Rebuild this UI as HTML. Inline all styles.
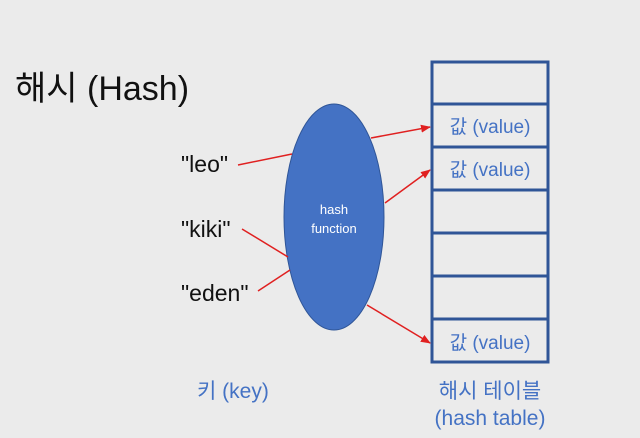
<!DOCTYPE html>
<html><head><meta charset="utf-8"><style>
html,body{margin:0;padding:0;background:#ebebeb;}
svg{display:block;font-family:"Liberation Sans","Noto Sans CJK KR",sans-serif;}
</style></head><body>
<svg width="640" height="438" viewBox="0 0 640 438" xmlns="http://www.w3.org/2000/svg">
<defs><marker id="a" markerWidth="10" markerHeight="8" refX="9" refY="4" orient="auto" markerUnits="userSpaceOnUse"><path d="M0,0 L10,4 L0,8 z" fill="#e02020"/></marker></defs>
<rect width="640" height="438" fill="#ebebeb"/>
<text x="15" y="100" font-size="34" fill="#111">해시 (Hash)</text>
<g fill="none" stroke="#2f5597" stroke-width="3">
<rect x="432" y="62" width="116" height="300"/>
<line x1="432" y1="104" x2="548" y2="104"/>
<line x1="432" y1="147" x2="548" y2="147"/>
<line x1="432" y1="190" x2="548" y2="190"/>
<line x1="432" y1="233" x2="548" y2="233"/>
<line x1="432" y1="276" x2="548" y2="276"/>
<line x1="432" y1="319" x2="548" y2="319"/>
</g>
<g font-size="19" fill="#4472c4" text-anchor="middle">
<text x="490" y="133">값 (value)</text>
<text x="490" y="176">값 (value)</text>
<text x="490" y="349">값 (value)</text>
</g>
<ellipse cx="334" cy="217" rx="50" ry="113" fill="#4472c4" stroke="#2f5597" stroke-width="1"/>
<text x="334" y="214" font-size="13" fill="#fff" text-anchor="middle">hash</text>
<text x="334" y="233" font-size="13" fill="#fff" text-anchor="middle">function</text>
<g font-size="23" fill="#111">
<text x="181" y="172">"leo"</text>
<text x="181" y="237">"kiki"</text>
<text x="181" y="301">"eden"</text>
</g>
<g stroke="#e02020" stroke-width="1.5" fill="none">
<line x1="238" y1="165" x2="292" y2="154"/>
<line x1="242" y1="229" x2="288" y2="257"/>
<line x1="258" y1="291" x2="290" y2="270"/>
<line x1="371" y1="138" x2="430" y2="127" marker-end="url(#a)"/>
<line x1="385" y1="203" x2="430" y2="170" marker-end="url(#a)"/>
<line x1="367" y1="305" x2="430" y2="343" marker-end="url(#a)"/>
</g>
<g font-size="21" fill="#4472c4">
<text x="197" y="398">키 (key)</text>
<text x="490" y="398" text-anchor="middle">해시 테이블</text>
<text x="490" y="425" text-anchor="middle">(hash table)</text>
</g>
</svg>
</body></html>
